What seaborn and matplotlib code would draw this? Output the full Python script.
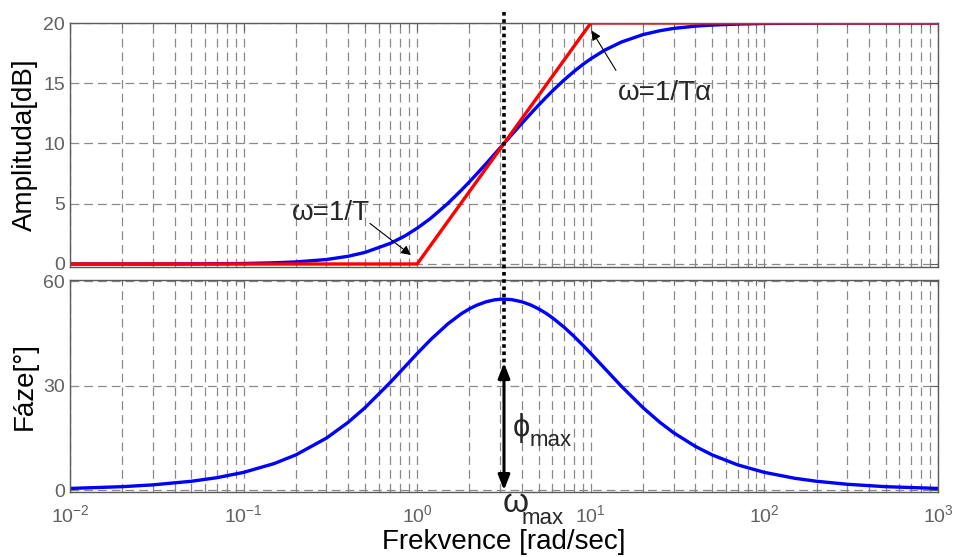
import matplotlib
matplotlib.use("Agg")
import matplotlib.pyplot as plt
import seaborn as sns
from matplotlib.lines import Line2D
from matplotlib import transforms
from matplotlib.ticker import FixedLocator, NullFormatter

# ---- data ----
freq = [0.01, 0.02, 0.03, 0.05, 0.07, 0.1, 0.15, 0.2, 0.3, 0.4, 0.5, 0.7,
        0.85, 1.0, 1.2, 1.5, 1.8, 2.0, 2.2, 2.5, 2.8, 3.0, 3.162, 3.5, 4.0,
        4.5, 5.0, 5.5, 6.0, 7.0, 8.0, 9.0, 10.0, 12.0, 15.0, 20.0, 25.0,
        30.0, 40.0, 50.0, 70.0, 100.0, 150.0, 200.0, 300.0, 500.0, 1000.0]
magnitude_db = [0.0, 0.0, 0.0, 0.01, 0.02, 0.04, 0.10, 0.17, 0.37, 0.64,
                0.96, 1.71, 2.33, 2.97, 3.81, 5.02, 6.14, 6.82, 7.46, 8.34,
                9.14, 9.63, 10.0, 10.72, 11.66, 12.47, 13.18, 13.80, 14.35,
                15.26, 15.98, 16.56, 17.03, 17.74, 18.42, 19.04, 19.36, 19.55,
                19.74, 19.83, 19.91, 19.96, 19.98, 19.99, 20.0, 20.0, 20.0]
phase_deg = [0.52, 1.03, 1.55, 2.58, 3.60, 5.14, 7.67, 10.16, 14.98, 19.51,
             23.70, 30.99, 35.50, 39.29, 43.35, 47.78, 50.75, 52.12, 53.15,
             54.16, 54.71, 54.87, 54.90, 54.76, 54.16, 53.24, 52.12, 50.89,
             49.58, 46.88, 44.21, 41.67, 39.29, 35.05, 29.88, 23.71, 19.51,
             16.52, 12.61, 10.16, 7.31, 5.14, 3.43, 2.58, 1.72, 1.03, 0.52]
asym_freq = [0.01, 1.0, 10.0, 1000.0]
asym_db = [0.0, 0.0, 20.0, 20.0]
omega_max = 3.162
phi_arrow_top = 36.6

x_ticks = [0.01, 0.1, 1.0, 10.0, 100.0, 1000.0]
x_ticklabels = [r"$\mathregular{10^{-2}}$", r"$\mathregular{10^{-1}}$",
                r"$\mathregular{10^{0}}$", r"$\mathregular{10^{1}}$",
                r"$\mathregular{10^{2}}$", r"$\mathregular{10^{3}}$"]
mag_ticks = [0, 5, 10, 15, 20]
phase_ticks = [0, 30, 60]

# ---- style ----
sns.set_style("white")
plt.rcParams["font.family"] = ["Liberation Sans", "DejaVu Sans"]
plt.rcParams["mathtext.fontset"] = "custom"
plt.rcParams["mathtext.rm"] = "Liberation Sans"

W, H = 954, 557
fig = plt.figure(figsize=(W / 100, H / 100), dpi=100)
ax1 = fig.add_axes([70 / W, 1 - 267 / H, 868 / W, 244 / H])
ax2 = fig.add_axes([70 / W, 1 - 492 / H, 868 / W, 212 / H])

minor = []
for d in [0.01, 0.1, 1.0, 10.0, 100.0]:
    minor += [d * k for k in range(2, 10)]

tick_color = "#606060"
grid_kw = dict(color="#8a8a8a", linewidth=0.9, linestyle=(0, (7, 4)))

for ax in (ax1, ax2):
    ax.set_xscale("log")
    ax.set_xlim(0.01, 1000)
    ax.xaxis.set_major_locator(FixedLocator(x_ticks))
    ax.xaxis.set_minor_locator(FixedLocator(minor))
    ax.xaxis.set_minor_formatter(NullFormatter())
    ax.grid(True, which="major", axis="both", **grid_kw)
    ax.grid(True, which="minor", axis="x", **grid_kw)
    ax.set_axisbelow(True)
    for s in ax.spines.values():
        s.set_color("#5a5a5a")
        s.set_linewidth(1.0)
    ax.tick_params(which="both", direction="in", top=True, right=True,
                   colors=tick_color, labelsize=14, labelcolor=tick_color)
    ax.tick_params(which="major", length=6)
    ax.tick_params(which="minor", length=3)

# ---- magnitude ----
sns.lineplot(x=freq, y=magnitude_db, ax=ax1, color="#0000ff", linewidth=2.4,
             sort=False)
sns.lineplot(x=asym_freq, y=asym_db, ax=ax1, color="#ff0000", linewidth=2.4,
             sort=False)
ax1.set_ylim(-0.25, 20)
ax1.set_yticks(mag_ticks)
ax1.set_xticklabels([])
ax1.set_ylabel("Amplituda[dB]", fontsize=20, color="black")
ax1.yaxis.set_label_coords(-0.037, 0.5)

# ---- phase ----
sns.lineplot(x=freq, y=phase_deg, ax=ax2, color="#0000ff", linewidth=2.4,
             sort=False)
ax2.set_ylim(-0.5, 60.4)
ax2.set_yticks(phase_ticks)
ax2.set_xticklabels(x_ticklabels)
ax2.tick_params(axis="x", pad=9)
ax2.set_ylabel("Fáze[°]", fontsize=20, color="black")
ax2.yaxis.set_label_coords(-0.037, 0.5)
ax2.set_xlabel("Frekvence [rad/sec]", fontsize=20, color="black", labelpad=2)

# ---- annotations ----
arr = dict(arrowstyle="-|>", color="black", lw=0.8, mutation_scale=14,
           shrinkA=0, shrinkB=0)
ax1.annotate("", xy=(0.92, 0.74), xytext=(0.534, 3.37), arrowprops=arr)
ax1.annotate("", xy=(10.1, 19.37), xytext=(13.96, 16.07), arrowprops=arr)


def px(x, y):
    return x / W, 1 - y / H


fig.text(*px(292, 213), "ω=1/T", fontsize=20, va="center", ha="left")
fig.text(*px(618, 93), "ω=1/Tα", fontsize=20, va="center", ha="left")
fig.text(*px(513, 428), "ϕ", fontsize=22, va="center", ha="left")
fig.text(*px(530, 441), "max", fontsize=16, va="center", ha="left")
fig.text(*px(503, 504), "ω", fontsize=24, va="center", ha="left")
fig.text(*px(522, 519), "max", fontsize=16, va="center", ha="left")

# dotted vertical line through both panels at omega_max
trans = transforms.blended_transform_factory(ax1.transData, fig.transFigure)
fig.add_artist(Line2D([omega_max, omega_max], [1 - 12 / H, 1 - 366 / H],
                      transform=trans, color="black", linewidth=2.6,
                      linestyle=(0, (1, 1))))

# double arrow phi_max
ax2.annotate("", xy=(omega_max, 0), xytext=(omega_max, phi_arrow_top),
             arrowprops=dict(arrowstyle="<|-|>,head_length=0.9,head_width=0.35",
                             color="black", lw=2.2, shrinkA=0, shrinkB=0),
             annotation_clip=False)

fig.savefig("out.png", dpi=100, facecolor="white")
